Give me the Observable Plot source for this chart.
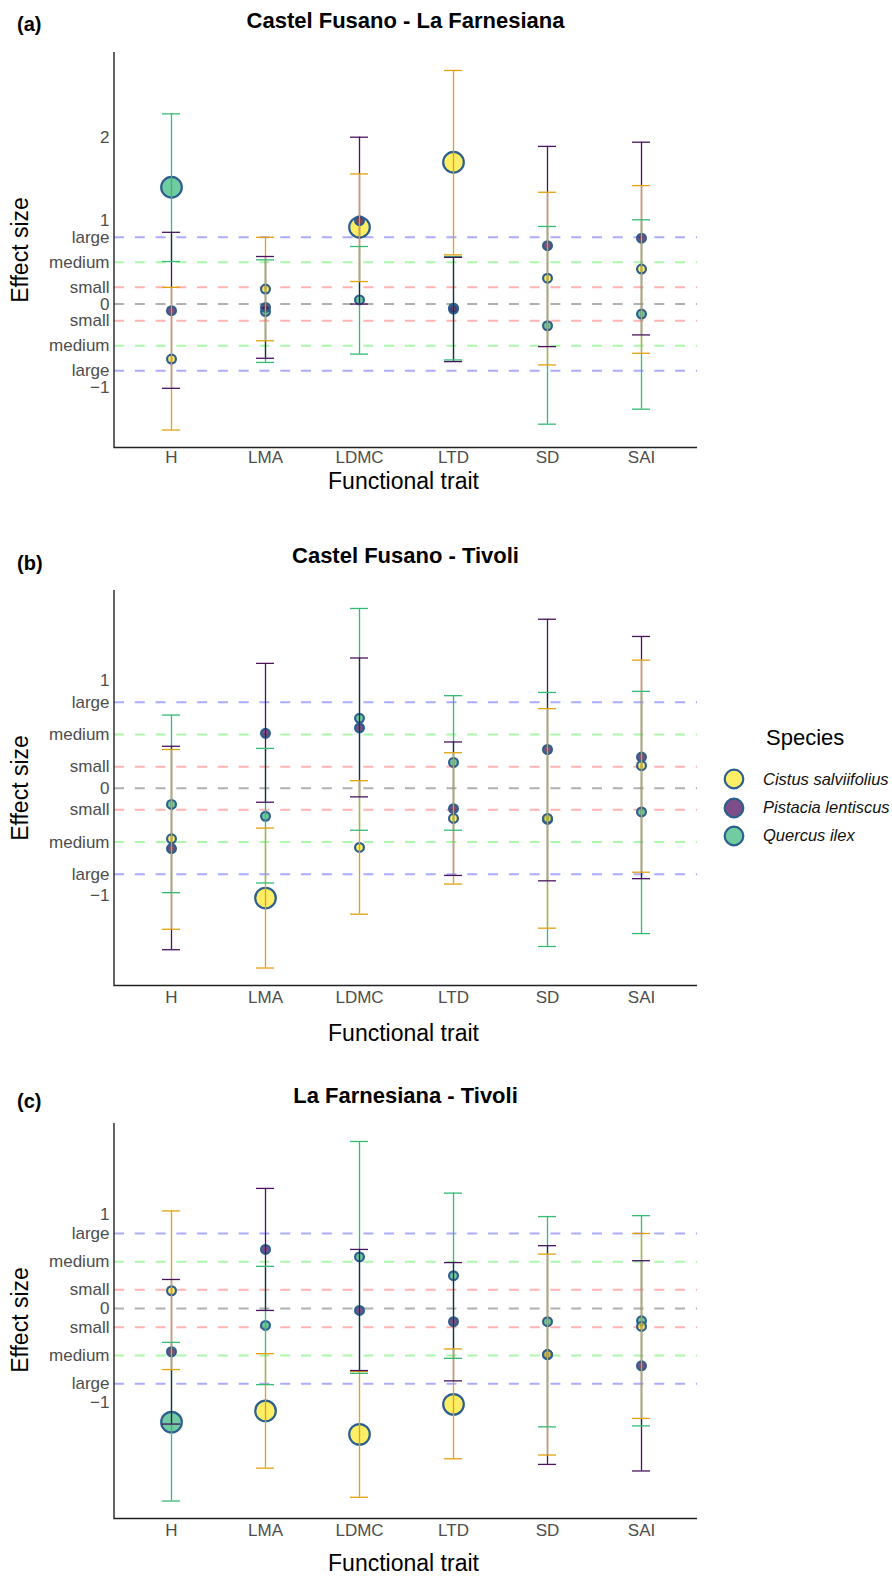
<!DOCTYPE html>
<html><head><meta charset="utf-8">
<script src="https://cdn.jsdelivr.net/npm/d3@7"></script>
<script src="https://cdn.jsdelivr.net/npm/@observablehq/plot@0.6"></script>
<style>
body{margin:0;background:#fff;}
#page{position:relative;width:892px;height:1577px;font-family:"Liberation Sans",Arial,sans-serif;overflow:hidden;background:#fff;}
.t{position:absolute;line-height:1;white-space:nowrap;}
.panel{position:absolute;left:0;}
</style></head><body><div id="page"></div>
<script>
// ---------- categories ----------
const traits = ["H", "LMA", "LDMC", "LTD", "SD", "SAI"];
const species = ["Cistus salviifolius", "Pistacia lentiscus", "Quercus ilex"];
const panelLetters = ["(a)", "(b)", "(c)"];
const panelTitles = ["Castel Fusano - La Farnesiana", "Castel Fusano - Tivoli", "La Farnesiana - Tivoli"];
const xTitle = "Functional trait";
const yTitle = "Effect size";
const legendTitle = "Species";

// ---------- y tick labels ----------
const numericTicks = [-1, 0, 1, 2];
const effectTickValues = [-0.8, -0.5, -0.2, 0.2, 0.5, 0.8];
const effectTickLabels = ["large", "medium", "small", "small", "medium", "large"];
const thresholdValues = [0.8, 0.5, 0.2, 0, -0.2, -0.5, -0.8];
const thresholdKinds = ["large", "medium", "small", "zero", "small", "medium", "large"];

// ---------- (a) Castel Fusano - La Farnesiana ----------
const a_cistus_est = [-0.66, 0.18, 0.92, 1.70, 0.31, 0.42];
const a_cistus_lo  = [-1.51, -0.44, 0.27, 0.59, -0.73, -0.59];
const a_cistus_hi  = [0.20, 0.80, 1.56, 2.80, 1.34, 1.42];
const a_pistacia_est = [-0.08, -0.04, 1.00, -0.06, 0.70, 0.79];
const a_pistacia_lo  = [-1.01, -0.65, 0.00, -0.69, -0.51, -0.37];
const a_pistacia_hi  = [0.86, 0.57, 2.00, 0.56, 1.89, 1.94];
const a_quercus_est = [1.40, -0.09, 0.05, -0.05, -0.26, -0.12];
const a_quercus_lo  = [0.51, -0.70, -0.60, -0.67, -1.44, -1.26];
const a_quercus_hi  = [2.28, 0.53, 0.69, 0.57, 0.93, 1.01];

// ---------- (b) Castel Fusano - Tivoli ----------
const b_cistus_est = [-0.47, -1.02, -0.55, -0.28, -0.28, 0.21];
const b_cistus_lo  = [-1.31, -1.67, -1.17, -0.89, -1.30, -0.78];
const b_cistus_hi  = [0.36, -0.37, 0.07, 0.33, 0.74, 1.19];
const b_pistacia_est = [-0.56, 0.51, 0.56, -0.19, 0.36, 0.29];
const b_pistacia_lo  = [-1.50, -0.13, -0.08, -0.81, -0.86, -0.84];
const b_pistacia_hi  = [0.39, 1.16, 1.21, 0.43, 1.57, 1.41];
const b_quercus_est = [-0.15, -0.26, 0.65, 0.24, -0.29, -0.22];
const b_quercus_lo  = [-0.97, -0.88, -0.39, -0.39, -1.47, -1.35];
const b_quercus_hi  = [0.68, 0.37, 1.67, 0.86, 0.89, 0.90];

// ---------- (c) La Farnesiana - Tivoli ----------
const c_cistus_est = [0.19, -1.09, -1.34, -1.02, -0.49, -0.19];
const c_cistus_lo  = [-0.65, -1.70, -2.01, -1.60, -1.56, -1.17];
const c_cistus_hi  = [1.04, -0.48, -0.67, -0.43, 0.58, 0.80];
const c_pistacia_est = [-0.46, 0.63, -0.02, -0.14, -0.49, -0.61];
const c_pistacia_lo  = [-1.23, -0.02, -0.66, -0.77, -1.66, -1.73];
const c_pistacia_hi  = [0.31, 1.28, 0.63, 0.49, 0.67, 0.51];
const c_quercus_est = [-1.21, -0.18, 0.55, 0.35, -0.14, -0.13];
const c_quercus_lo  = [-2.05, -0.81, -0.69, -0.53, -1.26, -1.25];
const c_quercus_hi  = [-0.36, 0.45, 1.78, 1.23, 0.98, 0.99];

// ---------- styles ----------
const barColor = {"Cistus salviifolius": "#E3A10E", "Pistacia lentiscus": "#4A135E", "Quercus ilex": "#33BC73"};
const fillColor = {"Cistus salviifolius": "#FDE725", "Pistacia lentiscus": "#440154", "Quercus ilex": "#35B779"};
const dotStroke = "#2C5E8E";
const thresholdColor = {large: "#ABABFF", medium: "#ABF8AB", small: "#FFB3B3", zero: "#B0B0B0"};
const FONT = '"Liberation Sans", Arial, sans-serif';

const panels = [
  {est: [a_cistus_est, a_pistacia_est, a_quercus_est], lo: [a_cistus_lo, a_pistacia_lo, a_quercus_lo], hi: [a_cistus_hi, a_pistacia_hi, a_quercus_hi]},
  {est: [b_cistus_est, b_pistacia_est, b_quercus_est], lo: [b_cistus_lo, b_pistacia_lo, b_quercus_lo], hi: [b_cistus_hi, b_pistacia_hi, b_quercus_hi]},
  {est: [c_cistus_est, c_pistacia_est, c_quercus_est], lo: [c_cistus_lo, c_pistacia_lo, c_quercus_lo], hi: [c_cistus_hi, c_pistacia_hi, c_quercus_hi]}
];

// layout (page pixels)
const plotTop = [52, 590, 1122.7];
const plotH = 395.5;
const mTop = 10, mBottom = 32, mLeft = 114, mRight = 13, W = 710;
const titleCY = [21, 556, 1096];
const letterCY = [24, 563, 1101];
const xTitleCY = [481, 1033, 1563];
const xTickPad = [3, 5, 5];

const page = document.getElementById("page");

function text(str, {x, cy, size, weight = "normal", anchor = "start", style = "normal", color = "#000", rotate = false}) {
  const el = document.createElement("div");
  el.className = "t";
  el.textContent = str;
  el.style.fontSize = size + "px";
  el.style.fontWeight = weight;
  el.style.fontStyle = style;
  el.style.color = color;
  if (rotate) {
    el.style.left = x + "px";
    el.style.top = cy + "px";
    el.style.transform = "translate(-50%,-50%) rotate(-90deg)";
  } else {
    el.style.left = x + "px";
    el.style.top = (cy - 0.489 * size) + "px";
    if (anchor === "middle") el.style.transform = "translateX(-50%)";
  }
  page.appendChild(el);
  return el;
}

function axisLines() {
  return (index, scales, values, dims) => {
    const {width, height, marginLeft, marginRight, marginTop, marginBottom} = dims;
    const g = d3.create("svg:g");
    g.append("path")
      .attr("d", `M${marginLeft},${marginTop}V${height - marginBottom}H${width - marginRight}`)
      .attr("fill", "none").attr("stroke", "#222").attr("stroke-width", 1.4);
    return g.node();
  };
}

const fmtNum = v => (v < 0 ? "\u2212" : "") + Math.abs(v);

panels.forEach((p, k) => {
  const rows = [];
  // draw order: Quercus, Pistacia, Cistus (Cistus on top)
  for (let s = species.length - 1; s >= 0; s--) {
    traits.forEach((t, i) => rows.push({trait: t, species: species[s], est: p.est[s][i], lo: p.lo[s][i], hi: p.hi[s][i]}));
  }
  const ymin = d3.min(rows, d => d.lo), ymax = d3.max(rows, d => d.hi);
  const pad = (ymax - ymin) * 0.05;
  const domain = [ymin - pad, ymax + pad];
  const inDom = v => v >= domain[0] && v <= domain[1];
  const nums = numericTicks.filter(inDom);
  const effLabel = new Map(effectTickValues.map((v, i) => [v, effectTickLabels[i]]));
  const thresholds = thresholdValues.map((v, i) => ({v, kind: thresholdKinds[i]}));

  const chart = Plot.plot({
    width: W,
    height: mTop + plotH + mBottom,
    marginLeft: mLeft, marginRight: mRight, marginTop: mTop, marginBottom: mBottom,
    style: {fontFamily: FONT, fontSize: "17px", color: "#4d4d4d", background: "transparent", overflow: "visible"},
    x: {type: "band", domain: traits, paddingInner: 0.81, paddingOuter: 0.505, label: null},
    y: {domain, label: null},
    color: {type: "identity"},
    r: {type: "identity"},
    marks: [
      Plot.ruleY(thresholds, {y: "v", stroke: d => thresholdColor[d.kind], strokeWidth: 2, strokeDasharray: "10,10.78"}),
      Plot.dot(rows, {x: "trait", y: "est", r: d => (d.lo > 0 || d.hi < 0) ? 10.3 : 4.4,
        fill: d => fillColor[d.species], fillOpacity: 0.7, stroke: dotStroke, strokeWidth: 2.2}),
      Plot.ruleX(rows, {x: "trait", y1: "lo", y2: "hi", stroke: d => barColor[d.species], strokeWidth: 1.3}),
      Plot.tickY(rows, {x: "trait", y: "hi", stroke: d => barColor[d.species], strokeWidth: 1.3}),
      Plot.tickY(rows, {x: "trait", y: "lo", stroke: d => barColor[d.species], strokeWidth: 1.3}),
      Plot.axisY(nums, {tickSize: 0, tickPadding: 5, tickFormat: fmtNum, label: null, fontSize: 17}),
      Plot.axisY(effectTickValues, {tickSize: 0, tickPadding: 5, tickFormat: v => effLabel.get(v), label: null, fontSize: 17}),
      Plot.axisX({tickSize: 0, tickPadding: xTickPad[k], label: null, fontSize: 17}),
      axisLines()
    ]
  });
  chart.classList.add("panel");
  chart.style.top = (plotTop[k] - mTop) + "px";
  page.appendChild(chart);

  const cx = mLeft + (W - mLeft - mRight) / 2;
  text(panelTitles[k], {x: cx, cy: titleCY[k], size: 22, weight: "bold", anchor: "middle"});
  text(panelLetters[k], {x: 17, cy: letterCY[k], size: 20, weight: "bold"});
  text(xTitle, {x: cx - 2, cy: xTitleCY[k], size: 23, anchor: "middle"});
  text(yTitle, {x: 20, cy: plotTop[k] + plotH / 2, size: 23, rotate: true});
});

// legend
text(legendTitle, {x: 766, cy: 738, size: 22});
const legendY = [779, 807.5, 835.5];
species.forEach((s, i) => {
  const svg = d3.create("svg").attr("width", 26).attr("height", 26)
    .style("position", "absolute").style("left", (734 - 13) + "px").style("top", (legendY[i] - 13) + "px");
  svg.append("circle").attr("cx", 13).attr("cy", 13).attr("r", 9.3)
    .attr("fill", fillColor[s]).attr("fill-opacity", 0.7).attr("stroke", dotStroke).attr("stroke-width", 2.2);
  page.appendChild(svg.node());
  text(s, {x: 763, cy: legendY[i], size: 16.5, style: "italic", color: "#111"});
});
</script></body></html>
